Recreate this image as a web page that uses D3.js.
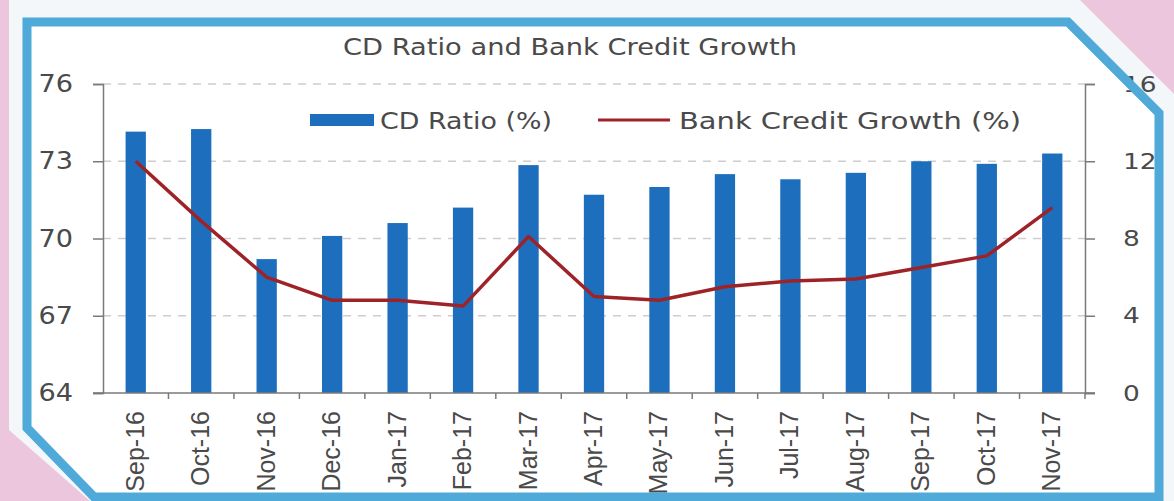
<!DOCTYPE html>
<html>
<head>
<meta charset="utf-8">
<script src="https://cdn.jsdelivr.net/npm/d3@7"></script>
<style>
  body { margin: 0; background: #ecc6dd; }
  svg { display: block; }
</style>
</head>
<body>
<svg id="chart-area"></svg>
<script>
// data
const months = ["Sep-16", "Oct-16", "Nov-16", "Dec-16", "Jan-17", "Feb-17", "Mar-17", "Apr-17",
    "May-17", "Jun-17", "Jul-17", "Aug-17", "Sep-17", "Oct-17", "Nov-17"]
const cdRatio = [74.15, 74.25, 69.2, 70.1, 70.6, 71.2, 72.85, 71.7, 72.0, 72.5, 72.3, 72.55, 73.0, 72.9, 73.3]
const creditGrowth = [12.0, 8.9, 6.0, 4.8, 4.8, 4.5, 8.1, 5.0, 4.8, 5.5, 5.8, 5.9, 6.5, 7.1, 9.6]
const leftTicks = [64, 67, 70, 73, 76]
const rightTicks = [0, 4, 8, 12, 16]

const width = 1174
const height = 501
const margin = {top: 84, right: 89, bottom: 108, left: 103}

const svg = d3.select("#chart-area")
    .attr("width", width)
    .attr("height", height)

// paper + frame with cut corners
const outer = [[9, 0], [1080, 0], [1174, 94], [1174, 501], [90, 501], [9, 430]]
svg.append("polygon")
    .attr("points", outer.join(" "))
    .attr("fill", "#f3f7f9")

const frame = [[27, 22], [1068, 22], [1159, 113], [1159, 497], [94, 497], [27, 428]]
svg.append("polygon")
    .attr("points", frame.join(" "))
    .attr("fill", "#ffffff")

const x = d3.scaleBand()
    .domain(months)
    .range([margin.left, width - margin.right])
    .paddingInner(0.69)
    .paddingOuter(0.345)

const yLeft = d3.scaleLinear()
    .domain([64, 76])
    .range([height - margin.bottom, margin.top])

const yRight = d3.scaleLinear()
    .domain([0, 16])
    .range([height - margin.bottom, margin.top])

const axisColor = "#7a7a7a"
const textColor = "#4a4a4a"
const font = "DejaVu Sans"

// the printed font is wider than DejaVu, so stretch glyphs a bit
function widen(sel, k) {
    sel.each(function() {
        const w = this.getComputedTextLength()
        d3.select(this)
            .attr("textLength", w * k)
            .attr("lengthAdjust", "spacingAndGlyphs")
    })
}

// title
svg.append("text")
    .attr("x", 570)
    .attr("y", 55)
    .attr("text-anchor", "middle")
    .attr("font-family", font)
    .attr("font-size", 23)
    .attr("fill", textColor)
    .attr("textLength", 454)
    .attr("lengthAdjust", "spacingAndGlyphs")
    .text("CD Ratio and Bank Credit Growth")

// gridlines
svg.append("g")
    .selectAll("line")
    .data(leftTicks.slice(1))
    .enter().append("line")
    .attr("x1", margin.left)
    .attr("x2", width - margin.right)
    .attr("y1", d => yLeft(d))
    .attr("y2", d => yLeft(d))
    .attr("stroke", "#cdcdcd")
    .attr("stroke-width", 1.5)
    .attr("stroke-dasharray", "8,7")

// bars
svg.append("g")
    .selectAll("rect")
    .data(cdRatio)
    .enter().append("rect")
    .attr("x", (d, i) => x(months[i]))
    .attr("width", x.bandwidth())
    .attr("y", d => yLeft(d))
    .attr("height", d => yLeft(64) - yLeft(d))
    .attr("fill", "#1d6fbe")

// line
const line = d3.line()
    .x((d, i) => x(months[i]) + x.bandwidth() / 2)
    .y(d => yRight(d))

svg.append("path")
    .datum(creditGrowth)
    .attr("d", line)
    .attr("fill", "none")
    .attr("stroke", "#9e2328")
    .attr("stroke-width", 3.5)
    .attr("stroke-linejoin", "round")

// axes
const leftAxis = svg.append("g")
    .attr("transform", `translate(${margin.left},0)`)
    .call(d3.axisLeft(yLeft).tickValues(leftTicks).tickSize(10).tickPadding(20))
leftAxis.select(".domain").attr("stroke", axisColor).attr("stroke-width", 1.5)
leftAxis.selectAll(".tick line").attr("stroke", axisColor).attr("stroke-width", 1.5)
leftAxis.selectAll("text")
    .attr("font-family", font)
    .attr("font-size", 24)
    .attr("fill", textColor)
    .call(widen, 1.13)

const rightAxis = svg.append("g")
    .attr("transform", `translate(${width - margin.right},0)`)
    .call(d3.axisRight(yRight).tickValues(rightTicks).tickSize(10).tickPadding(28))
rightAxis.select(".domain").attr("stroke", axisColor).attr("stroke-width", 1.5)
rightAxis.selectAll(".tick line").attr("stroke", axisColor).attr("stroke-width", 1.5)
rightAxis.selectAll("text")
    .attr("font-family", font)
    .attr("font-size", 22)
    .attr("fill", textColor)
    .call(widen, 1.2)

// bottom axis: ticks on the band edges, labels rotated
const bottom = svg.append("g")
svg.append("line")
    .attr("x1", margin.left - 10)
    .attr("x2", width - margin.right + 10)
    .attr("y1", yLeft(64))
    .attr("y2", yLeft(64))
    .attr("stroke", axisColor)
    .attr("stroke-width", 1.5)

const step = x.step()
bottom.selectAll("line")
    .data(months)
    .enter().append("line")
    .attr("x1", (d, i) => margin.left + step * (i + 1))
    .attr("x2", (d, i) => margin.left + step * (i + 1))
    .attr("y1", yLeft(64))
    .attr("y2", yLeft(64) + 6)
    .attr("stroke", axisColor)
    .attr("stroke-width", 1.5)

bottom.selectAll("text")
    .data(months)
    .enter().append("text")
    .attr("transform", d => `translate(${x(d) + x.bandwidth() / 2 + 8},411) rotate(-90)`)
    .attr("text-anchor", "end")
    .attr("font-family", "Liberation Sans Narrow, Liberation Sans")
    .attr("font-size", 25)
    .attr("fill", textColor)
    .text(d => d)

// legend
const legend = svg.append("g")
legend.append("rect")
    .attr("x", 310)
    .attr("y", 114)
    .attr("width", 64)
    .attr("height", 12)
    .attr("fill", "#1d6fbe")
legend.append("text")
    .attr("x", 380)
    .attr("y", 129)
    .attr("font-family", font)
    .attr("font-size", 23)
    .attr("fill", textColor)
    .attr("textLength", 172)
    .attr("lengthAdjust", "spacingAndGlyphs")
    .text("CD Ratio (%)")
legend.append("line")
    .attr("x1", 598)
    .attr("x2", 670)
    .attr("y1", 120)
    .attr("y2", 120)
    .attr("stroke", "#9e2328")
    .attr("stroke-width", 3)
legend.append("text")
    .attr("x", 679)
    .attr("y", 129)
    .attr("font-family", font)
    .attr("font-size", 23)
    .attr("fill", textColor)
    .attr("textLength", 342)
    .attr("lengthAdjust", "spacingAndGlyphs")
    .text("Bank Credit Growth (%)")

// frame border on top
svg.append("polygon")
    .attr("points", frame.join(" "))
    .attr("fill", "none")
    .attr("stroke", "#4fa9d9")
    .attr("stroke-width", 9)
</script>
</body>
</html>
